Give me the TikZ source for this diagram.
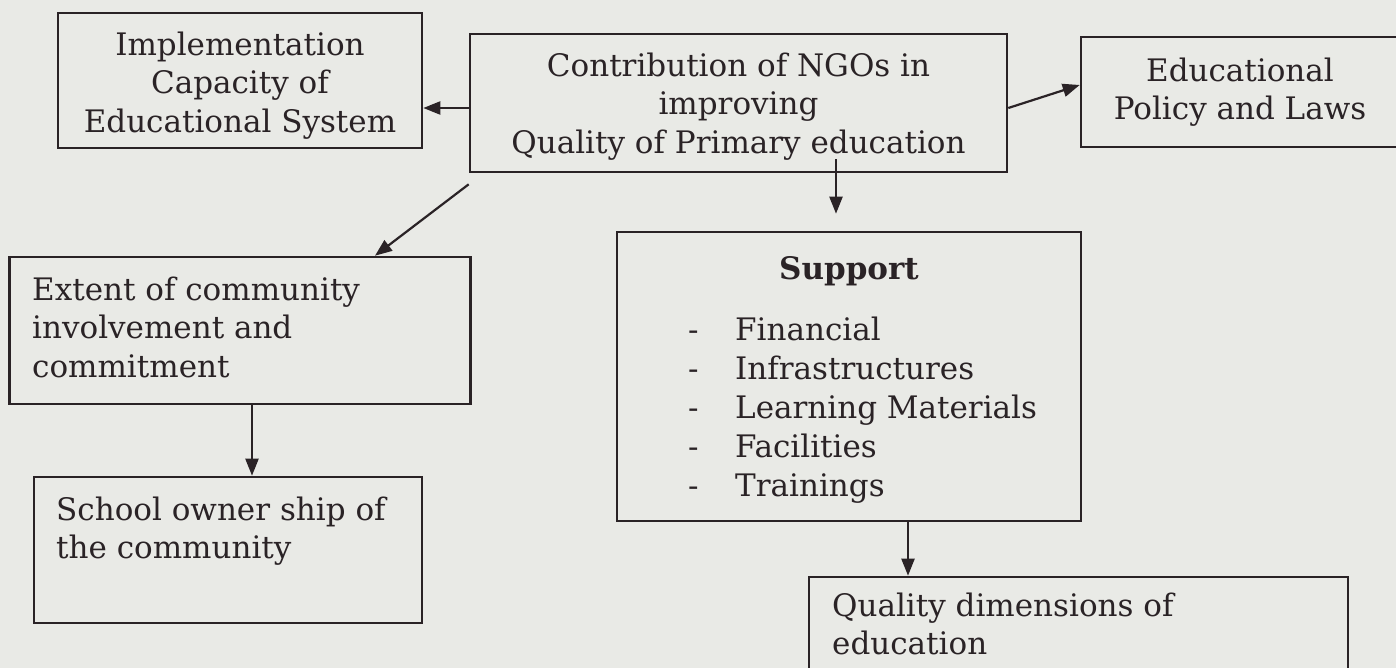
\documentclass[tikz,border=0pt]{standalone}
\usepackage{fontspec}
\setmainfont{DejaVu Serif}
\usetikzlibrary{arrows.meta,calc}
\definecolor{paper}{HTML}{E9EAE6}
\definecolor{ink}{HTML}{2A2326}
\begin{document}
\begin{tikzpicture}[x=1pt,y=-1pt,
  box/.style={draw=ink, line width=2.6pt, rectangle, inner sep=0pt},
  txt/.style={text=ink, font=\fontsize{31}{38.5}\selectfont, inner sep=0pt},
  link/.style={draw=ink, line width=2.2pt, -{Triangle[length=17pt,width=13pt]}}]
\fill[paper] (0,0) rectangle (1396,668);
\useasboundingbox (0,0) rectangle (1396,668);

% boxes
\node[box, minimum width=364pt, minimum height=135pt] (impl) at (240,80.5) {};
\node[box, minimum width=537pt, minimum height=138pt] (ngo) at (738.5,103) {};
\node[box, minimum width=319pt, minimum height=110pt] (policy) at (1240.5,92) {};
\node[box, minimum width=461pt, minimum height=147pt] (ext) at (240,330.5) {};
\node[box, minimum width=388pt, minimum height=146pt] (school) at (228,550) {};
\node[box, minimum width=464pt, minimum height=289pt] (support) at (849,376.5) {};
\node[box, minimum width=539pt, minimum height=120pt] (qual) at (1078.5,637) {};

% texts
\node[txt, align=center] (implT) at (240,85.5) {Implementation\\Capacity of\\Educational System};
\node[txt, align=center] (ngoT) at (738.5,106.5) {Contribution of NGOs in\\improving\\Quality of Primary education};
\node[txt, align=center] (policyT) at (1240,92) {Educational\\Policy and Laws};
\node[txt, align=left, anchor=west] (extT) at (32,327) {Extent of community\\involvement and\\commitment};
\node[txt, align=left, anchor=west] (schoolT) at (56,531) {School owner ship of\\the community};
\node[txt, align=left, anchor=west] (qualT) at (832,624) {Quality dimensions of\\education};
\node[txt, anchor=base] (supT) at (849,279) {\textbf{Support}};
\foreach \t [count=\i] in {Financial, Infrastructures, Learning Materials, Facilities, Trainings} {
  \node[txt, anchor=base west] (dash\i) at (688,{340+39*(\i-1)}) {-};
  \node[txt, anchor=base west] (item\i) at (735,{340+39*(\i-1)}) {\t};
}

% connectors
\draw[link] ($(ngo.west)+(0,5)$) -- ($(impl.east|-ngo.west)+(0,5)$);
\draw[link] ($(ngo.east)+(0,5)$) -- ($(policy.west)+(0,-7)$);
\draw[link] ($(ngo.south west)+(0,11)$) -- ($(ext.north)+(135,0)$);
\draw[link] ($(ngo.south)+(97.5,-14)$) -- ($(support.north)+(-13,-17)$);
\coordinate (de) at ($(ext.south)+(12,0)$);
\draw[link] (de) -- (de |- school.north);
\coordinate (fg) at ($(support.south)+(59,0)$);
\draw[link] (fg) -- (fg |- qual.north);
\end{tikzpicture}
\end{document}
